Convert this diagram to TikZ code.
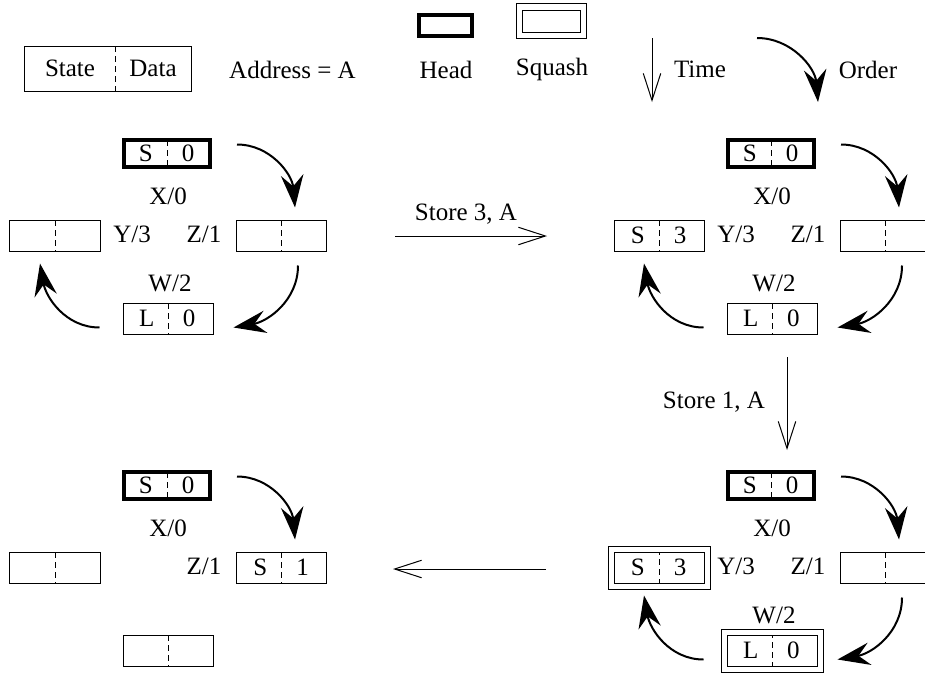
\documentclass[tikz,border=0pt]{standalone}
\usepackage{fontspec}
\setmainfont{Liberation Serif}
\usetikzlibrary{arrows.meta}

\newcommand{\celltext}[2]{\makebox[17pt]{#1}\makebox[17pt]{#2}}

\tikzset{
	plain/.style={draw, line width=0.4pt, inner sep=0pt, minimum width=36pt, minimum height=12.4pt},
	cell/.style={plain, path picture={\draw[line width=0.4pt, dash pattern=on 2.4pt off 1.6pt]
		([xshift=#1]path picture bounding box.north) -- ([xshift=#1]path picture bounding box.south);}},
	cell/.default=0pt,
	head/.style={line width=1.6pt, minimum width=34.4pt, minimum height=10.8pt},
	squash/.style={double, double distance=2pt, outer sep=-1pt, minimum width=38.4pt, minimum height=14.8pt},
	label/.style={inner sep=0pt},
	timearrow/.style={line width=0.4pt, -{Straight Barb[length=10.8pt,width=7pt]}},
	orderarc/.style={line width=0.8pt, -{Stealth[length=13pt,width=9pt,inset=4.5pt]}}
}

\begin{document}
\begin{tikzpicture}[x=0.4pt, y=0.4pt]
	\useasboundingbox (0,0) rectangle (925,-673);
	% key
	\node[cell=2.8pt, minimum height=18pt] (key) at (108,-68.5) {\makebox[36pt]{State}\makebox[30.4pt]{Data}};
	\node[label] (addr) at (292.5,-69.5) {Address = A};
	\node[plain, head, minimum width=21.2pt, minimum height=8.4pt] (headkey) at (445.5,-25.5) {};
	\node[label] (headtxt) at (446,-69.5) {Head};
	\node[plain, squash, minimum width=25.6pt, minimum height=11.2pt] (squashkey) at (551.5,-21) {};
	\node[label] (squashtxt) at (552,-69.5) {Squash};
	\coordinate (time0) at (652,-38);
	\coordinate (time1) at (652,-102);
	\draw[timearrow] (time0) -- (time1);
	\node[label] (timetxt) at (700,-69.5) {Time};
	\coordinate (order0) at (757,-38);
	\coordinate (order1) at (818,-102);
	\draw[orderarc] (order0) to[out=0,in=95] (order1);
	\node[label] (ordertxt) at (868,-69.5) {Order};

	% before the first store
	\begin{scope}
	\node[cell, head] (t1) at (167,-153.5) {\celltext{S}{0}};
	\node[label] (x1) at (168,-196.5) {X/0};
	\node[cell] (l1) at (55,-235.5) {};
	\node[label] (y1) at (132,-234) {Y/3};
	\node[label] (z1) at (204,-234) {Z/1};
	\node[cell] (r1) at (281.5,-235.5) {};
	\node[label] (w1) at (170,-283.5) {W/2};
	\node[cell] (b1) at (168,-318.5) {\celltext{L}{0}};
	\draw[orderarc] ([shift={(10pt,3.6pt)}]t1.east) to[out=0,in=95] ([shift={(5.4pt,4.8pt)}]r1.north);
	\draw[orderarc] ([shift={(6.6pt,-5.6pt)}]r1.south) to[out=-90,in=10] ([shift={(8pt,-3.6pt)}]b1.east);
	\draw[orderarc] ([shift={(-9.2pt,-3.6pt)}]b1.west) to[out=180,in=-80] ([shift={(-6pt,-4.8pt)}]l1.south);
	\end{scope}

	% after store 3
	\begin{scope}[shift={(604,0)}]
	\node[cell, head] (t2) at (167,-153.5) {\celltext{S}{0}};
	\node[label] (x2) at (168,-196.5) {X/0};
	\node[cell] (l2) at (55,-235.5) {\celltext{S}{3}};
	\node[label] (y2) at (132,-234) {Y/3};
	\node[label] (z2) at (204,-234) {Z/1};
	\node[cell] (r2) at (281.5,-235.5) {};
	\node[label] (w2) at (170,-283.5) {W/2};
	\node[cell] (b2) at (168,-318.5) {\celltext{L}{0}};
	\draw[orderarc] ([shift={(10pt,3.6pt)}]t2.east) to[out=0,in=95] ([shift={(5.4pt,4.8pt)}]r2.north);
	\draw[orderarc] ([shift={(6.6pt,-5.6pt)}]r2.south) to[out=-90,in=10] ([shift={(8pt,-3.6pt)}]b2.east);
	\draw[orderarc] ([shift={(-9.2pt,-3.6pt)}]b2.west) to[out=180,in=-80] ([shift={(-6pt,-4.8pt)}]l2.south);
	\end{scope}

	% after store 1
	\begin{scope}[shift={(604,-332)}]
	\node[cell, head] (t3) at (167,-153.5) {\celltext{S}{0}};
	\node[label] (x3) at (168,-196.5) {X/0};
	\node[cell, squash] (l3) at (55,-235.5) {\celltext{S}{3}};
	\node[label] (y3) at (132,-234) {Y/3};
	\node[label] (z3) at (204,-234) {Z/1};
	\node[cell] (r3) at (281.5,-235.5) {};
	\node[label] (w3) at (170,-283.5) {W/2};
	\node[cell, squash] (b3) at (168,-318.5) {\celltext{L}{0}};
	\draw[orderarc] ([shift={(10pt,3.6pt)}]t3.east) to[out=0,in=95] ([shift={(5.4pt,4.8pt)}]r3.north);
	\draw[orderarc] ([shift={(6.6pt,-5.6pt)}]r3.south) to[out=-90,in=10] ([shift={(8pt,-3.6pt)}]b3.east);
	\draw[orderarc] ([shift={(-9.2pt,-3.6pt)}]b3.west) to[out=180,in=-80] ([shift={(-6pt,-4.8pt)}]l3.south);
	\end{scope}

	% after the squash
	\begin{scope}[shift={(0,-332)}]
	\node[cell, head] (t4) at (167,-153.5) {\celltext{S}{0}};
	\node[label] (x4) at (168,-196.5) {X/0};
	\node[cell] (l4) at (55,-235.5) {};
	\node[label] (z4) at (204,-234) {Z/1};
	\node[cell] (r4) at (281.5,-235.5) {\celltext{S}{1}};
	\node[cell] (b4) at (168,-318.5) {};
	\draw[orderarc] ([shift={(10pt,3.6pt)}]t4.east) to[out=0,in=95] ([shift={(5.4pt,4.8pt)}]r4.north);
	\end{scope}

	% steps between the states
	\coordinate (store30) at (395,-236);
	\coordinate (store31) at (547,-236);
	\draw[timearrow] (store30) -- (store31);
	\node[label] (store3txt) at (466,-214.5) {Store 3, A};
	\coordinate (store10) at (787,-357);
	\coordinate (store11) at (787,-450);
	\draw[timearrow] (store10) -- (store11);
	\node[label] (store1txt) at (714,-402.5) {Store 1, A};
	\coordinate (squash0) at (546,-569);
	\coordinate (squash1) at (393,-569);
	\draw[timearrow] (squash0) -- (squash1);
\end{tikzpicture}
\end{document}
